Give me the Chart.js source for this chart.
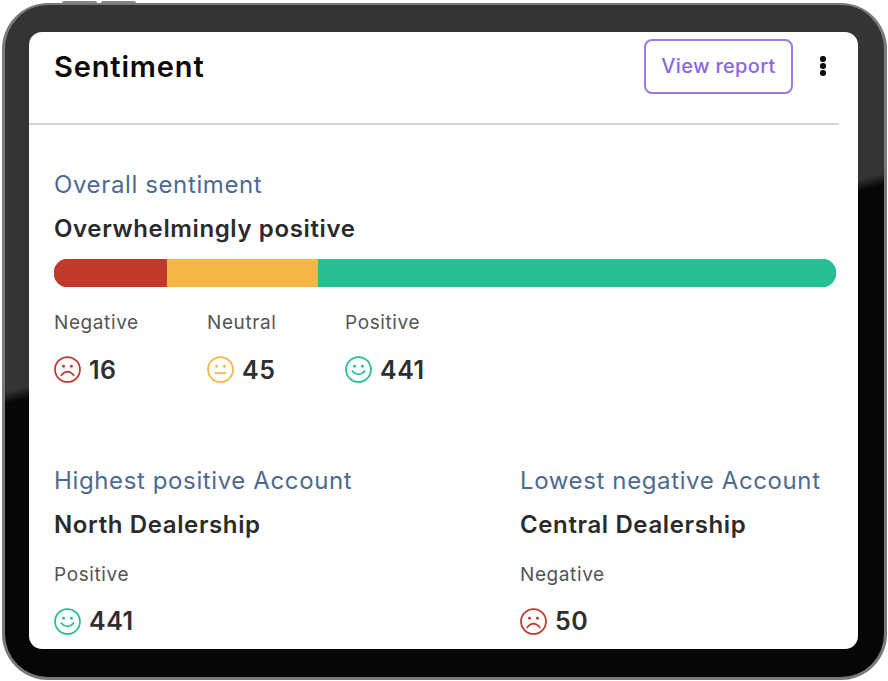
<!DOCTYPE html>
<html>
<head>
<meta charset="utf-8">
<title>Sentiment</title>
<script src="https://cdn.jsdelivr.net/npm/chart.js@4"></script>
<style>
  html, body { margin: 0; padding: 0; background: #fff; }
  body { width: 888px; height: 681px; position: relative; overflow: hidden; font-family: Inter, "Noto Sans", sans-serif; }
  .frame { position: absolute; left: 2px; top: 3px; width: 879px; height: 672px; border: 3px solid #7a7a7a; border-top-width: 2px; border-radius: 46px;
    background: linear-gradient(166deg, #343434 0, #343434 43.4%, #060606 44.8%, #060606 100%); }
  .btn-top { position: absolute; top: 1px; height: 3px; background: #8a8a8a; border-radius: 2px 2px 0 0; }
  .screen { position: absolute; left: 29px; top: 32px; width: 829px; height: 617px; background: #fff; border-radius: 13px; }
  .t { position: absolute; white-space: nowrap; line-height: 1; }
  .title { font-size: 29px; font-weight: 600; color: #0a0a0a; letter-spacing: 0.85px; }
  .head { font-size: 24px; color: #4d6a8f; letter-spacing: 0.62px; }
  .sub { font-size: 24px; font-weight: 600; color: #2b2b2b; letter-spacing: 0.62px; }
  .lab { font-size: 19px; color: #555; letter-spacing: 0.6px; }
  .num { font-size: 25px; font-weight: 600; color: #2f2f2f; letter-spacing: 0.5px; }
  .rule { position: absolute; left: 29px; top: 123px; width: 810px; height: 2px; background: #d4d4d4; }
  .report { position: absolute; left: 644px; top: 39px; width: 145px; height: 51px; border: 2px solid #9a7be8; border-radius: 8px;
    color: #8a68e2; font-size: 20px; font-weight: 500; text-align: center; line-height: 51px; letter-spacing: 0.3px; }
  .dot { position: absolute; left: 820px; width: 5.5px; height: 5.5px; border-radius: 50%; background: #0a0a0a; }
  canvas { position: absolute; left: 54px; top: 259px; }
  svg { position: absolute; }
</style>
</head>
<body>
<div class="btn-top" style="left:62px;width:35px"></div>
<div class="btn-top" style="left:101px;width:35px"></div>
<div class="frame"></div>
<div class="screen"></div>

<div class="t title" style="left:54px;top:52px">Sentiment</div>
<div class="report">View report</div>
<div class="dot" style="top:56px"></div>
<div class="dot" style="top:63px"></div>
<div class="dot" style="top:70px"></div>
<div class="rule"></div>

<div class="t head" style="left:54px;top:173px">Overall sentiment</div>
<div class="t sub" style="left:54px;top:217px">Overwhelmingly positive</div>
<canvas id="sentimentBar" width="782" height="28"></canvas>
<div id="counts"></div>

<div class="t head" style="left:54px;top:469px">Highest positive Account</div>
<div class="t sub" style="left:54px;top:513px">North Dealership</div>
<div class="t head" style="left:520px;top:469px">Lowest negative Account</div>
<div class="t sub" style="left:520px;top:513px">Central Dealership</div>

<script>
const categories = ['Negative', 'Neutral', 'Positive'];
// counts printed under the bar
const counts = [16, 45, 441];
// share of the bar length (it is not proportional to the counts)
const barShares = [14.4, 19.3, 66.3];
const barColors = ['#c03a2b', '#f6b647', '#26bf94'];

const accountLabels = ['Positive', 'Negative'];
const accountCounts = [441, 50];

function addFace(kind, x, y) {
  const i = categories.indexOf(kind);
  const c = barColors[i];
  let mouth = '<path d="M7 18.5 Q13 11.5 19 18.5" />';
  if (kind === 'Neutral') mouth = '<path d="M8 16.5 H18" />';
  if (kind === 'Positive') mouth = '<path d="M7 14.5 Q13 21 19 14.5" />';
  document.body.insertAdjacentHTML('beforeend',
    `<svg style="left:${x}px;top:${y}px" width="27" height="27" viewBox="0 0 26 26" fill="none" stroke="${c}" stroke-width="1.7" stroke-linecap="round">
      <circle cx="13" cy="13" r="12" />
      <circle cx="9.2" cy="9.8" r="1.4" fill="${c}" stroke="none" />
      <circle cx="16.8" cy="9.8" r="1.4" fill="${c}" stroke="none" />
      ${mouth}
    </svg>`);
}

function addStat(label, count, kind, x, labelY, faceY, numY) {
  document.body.insertAdjacentHTML('beforeend',
    `<div class="t lab" style="left:${x}px;top:${labelY}px">${label}</div>
     <div class="t num" style="left:${x + 35}px;top:${numY}px">${count}</div>`);
  addFace(kind, x, faceY);
}

const statX = [54, 207, 345];
categories.forEach((name, i) => addStat(name, counts[i], name, statX[i], 313, 356, 358));
addStat(accountLabels[0], accountCounts[0], 'Positive', 54, 565, 608, 609);
addStat(accountLabels[1], accountCounts[1], 'Negative', 520, 565, 608, 609);

const radii = [
  { topLeft: 14, bottomLeft: 14 },
  0,
  { topRight: 14, bottomRight: 14 }
];

new Chart(document.getElementById('sentimentBar'), {
  type: 'bar',
  data: {
    labels: ['Overall sentiment'],
    datasets: categories.map((name, i) => ({
      label: name,
      data: [barShares[i]],
      backgroundColor: barColors[i],
      borderRadius: radii[i],
      borderSkipped: false,
      barPercentage: 1,
      categoryPercentage: 1
    }))
  },
  options: {
    indexAxis: 'y',
    responsive: false,
    animation: false,
    layout: { padding: 0 },
    plugins: { legend: { display: false }, tooltip: { enabled: false } },
    scales: {
      x: { stacked: true, min: 0, max: 100, display: false },
      y: { stacked: true, display: false }
    }
  }
});
</script>
</body>
</html>
